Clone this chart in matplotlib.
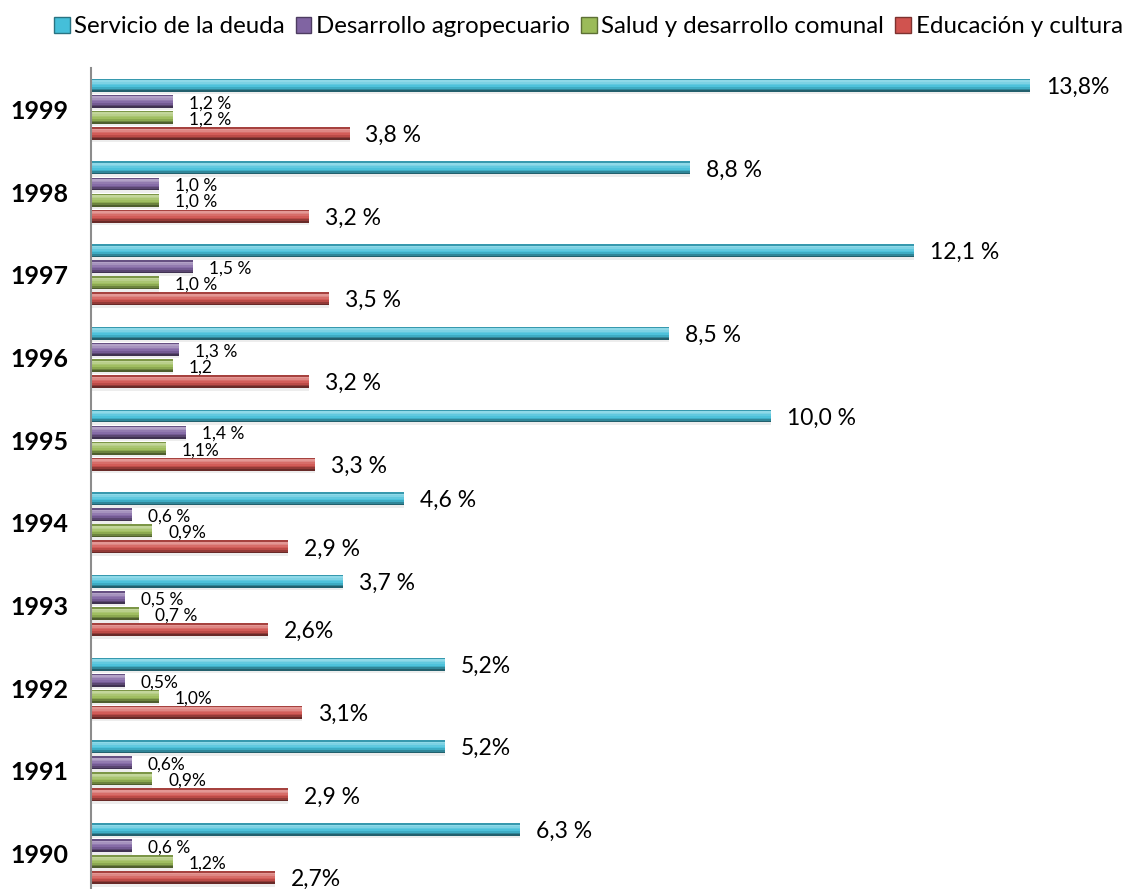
import numpy as np
import matplotlib
matplotlib.use("Agg")
import matplotlib.pyplot as plt
from matplotlib.colors import to_rgb
from matplotlib.patches import Patch

plt.rcParams['font.family'] = ['Lato', 'DejaVu Sans']

years = ["1990", "1991", "1992", "1993", "1994", "1995", "1996", "1997", "1998", "1999"]
series = ["Servicio de la deuda", "Desarrollo agropecuario",
          "Salud y desarrollo comunal", "Educación y cultura"]

deuda = [6.3, 5.2, 5.2, 3.7, 4.6, 10.0, 8.5, 12.1, 8.8, 13.8]
agro = [0.6, 0.6, 0.5, 0.5, 0.6, 1.4, 1.3, 1.5, 1.0, 1.2]
salud = [1.2, 0.9, 1.0, 0.7, 0.9, 1.1, 1.2, 1.0, 1.0, 1.2]
educ = [2.7, 2.9, 3.1, 2.6, 2.9, 3.3, 3.2, 3.5, 3.2, 3.8]

deuda_lbl = ["6,3 %", "5,2%", "5,2%", "3,7 %", "4,6 %", "10,0 %", "8,5 %", "12,1 %", "8,8 %", "13,8%"]
agro_lbl = ["0,6 %", "0,6%", "0,5%", "0,5 %", "0,6 %", "1,4 %", "1,3 %", "1,5 %", "1,0 %", "1,2 %"]
salud_lbl = ["1,2%", "0,9%", "1,0%", "0,7 %", "0,9%", "1,1%", "1,2", "1,0 %", "1,0 %", "1,2 %"]
educ_lbl = ["2,7%", "2,9 %", "3,1%", "2,6%", "2,9 %", "3,3 %", "3,2 %", "3,5 %", "3,2 %", "3,8 %"]

colors = ["#45bfd9", "#8064a2", "#9bbb59", "#d0534f"]
values = [deuda, agro, salud, educ]
labels = [deuda_lbl, agro_lbl, salud_lbl, educ_lbl]
lbl_size = [16.5, 12.5, 12.5, 16.5]

step = 0.194
height = 0.157
offsets = [1.5 * step, 0.5 * step, -0.5 * step, -1.5 * step]


def shade(c, f):
    c = np.array(to_rgb(c))
    if f >= 0:
        return tuple(c + (1 - c) * f)
    return tuple(c * (1 + f))


# top -> bottom shading, fakes the bevel look
profile = [-0.2, 0.4, 0.3, 0.15, 0.05, -0.1, -0.3, -0.5]

fig = plt.figure(figsize=(11.29, 8.89), dpi=100)
ax = fig.add_axes([91 / 1129, 0, 1034 / 1129, 1 - 68 / 889])

y = np.arange(len(years))
for k in range(4):
    pos = y + offsets[k]
    # soft shadow under the bar
    ax.barh(pos - height * 0.2, values[k], height=height, color="#000000",
            alpha=0.07, linewidth=0)
    ax.barh(pos, values[k], height=height, color=colors[k], linewidth=0)
    n = len(profile)
    sh = height / n
    for i, f in enumerate(profile):
        ax.barh(pos + height / 2 - sh * (i + 0.5), values[k], height=sh,
                color=shade(colors[k], f), linewidth=0, antialiased=False)
    for j in range(len(years)):
        ax.annotate(labels[k][j], (values[k][j], pos[j]), xytext=(11.5, -1.5),
                    textcoords="offset points", va="center", ha="left",
                    fontsize=lbl_size[k], color="black")

ax.set_xlim(0, 15.2)
ax.set_ylim(-0.43, 9.5)
ax.set_xticks([])
ax.set_yticks(y)
ax.set_yticklabels(years, fontsize=18, fontweight="bold")
ax.tick_params(axis="y", length=0, pad=16)
for s in ["top", "right", "bottom"]:
    ax.spines[s].set_visible(False)
ax.spines["left"].set_color("#8c8c8c")
ax.spines["left"].set_linewidth(1.5)

handles = [Patch(facecolor=c, edgecolor=shade(c, -0.4)) for c in colors]
fig.legend(handles, series, loc="center", bbox_to_anchor=(0.521, 0.97), ncol=4,
           frameon=False, fontsize=17.3, handlelength=0.65, handleheight=0.65,
           handletextpad=0.2, columnspacing=0.45)

fig.savefig("out.png", dpi=100)
